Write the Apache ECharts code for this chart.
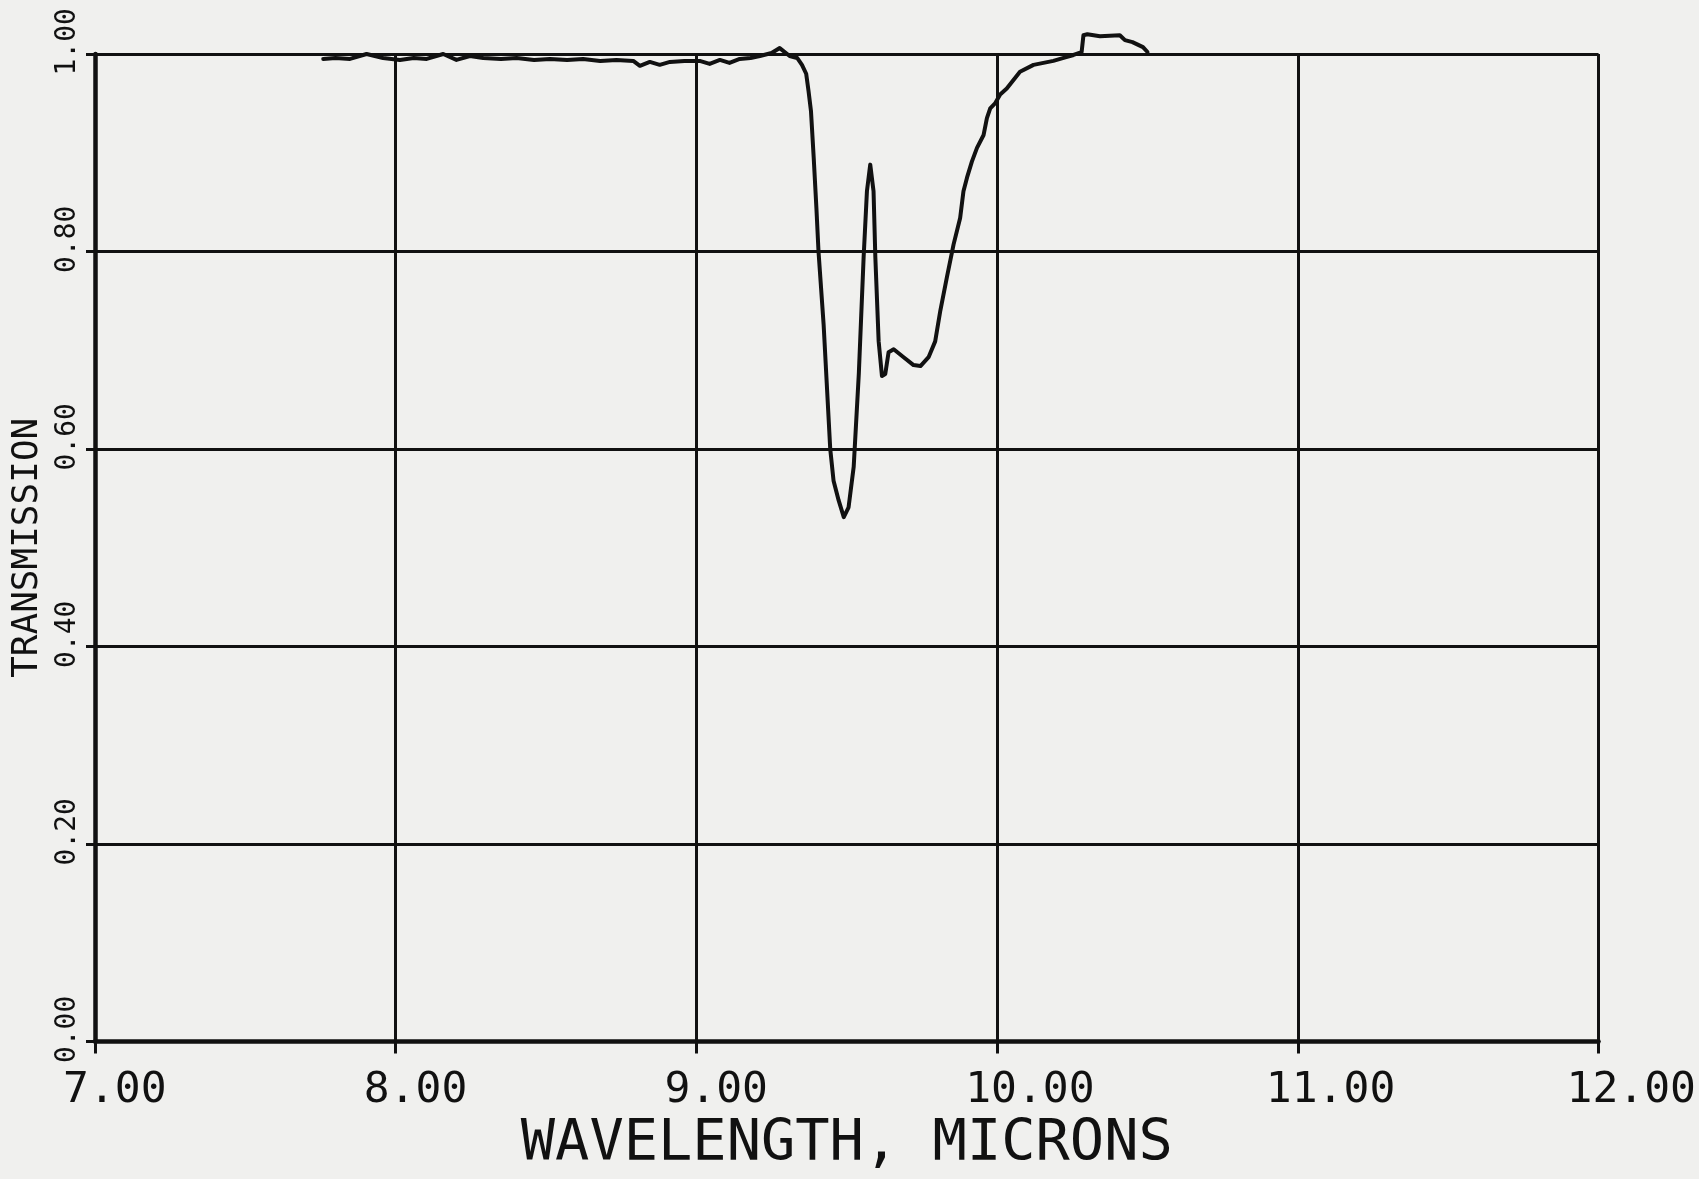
<!DOCTYPE html>
<html>
<head>
<meta charset="utf-8">
<style>
  html, body { margin: 0; padding: 0; background: #f0f0ee; }
  #chart { width: 1699px; height: 1179px; }
</style>
<script src="https://cdn.jsdelivr.net/npm/echarts@6/dist/echarts.min.js"></script>
</head>
<body>
<div id="chart"></div>
<script>
// ---- data ----
const wavelength = [
  7.759, 7.80, 7.848, 7.903, 7.958, 8.014, 8.06, 8.103, 8.158, 8.202,
  8.247, 8.291, 8.35, 8.402, 8.46, 8.513, 8.57, 8.623, 8.68, 8.734,
  8.790, 8.812, 8.845, 8.878, 8.912, 8.96, 9.011, 9.044, 9.078, 9.11,
  9.144, 9.18, 9.211, 9.25, 9.277, 9.31, 9.335, 9.351, 9.365, 9.373,
  9.381, 9.390, 9.399, 9.406, 9.423, 9.445, 9.456, 9.473, 9.490, 9.506,
  9.523, 9.540, 9.556, 9.567, 9.578, 9.589, 9.595, 9.606, 9.617, 9.628,
  9.639, 9.656, 9.689, 9.722, 9.745, 9.772, 9.794, 9.811, 9.833, 9.855,
  9.877, 9.888, 9.900, 9.916, 9.933, 9.955, 9.966, 9.977, 9.993, 10.010,
  10.032, 10.076, 10.121, 10.154, 10.187, 10.221, 10.254, 10.281, 10.287, 10.30,
  10.342, 10.408, 10.425, 10.45, 10.485, 10.50
];
const transmission = [
  0.995, 0.996, 0.995, 1.000, 0.996, 0.994, 0.996, 0.995, 1.000, 0.994,
  0.998, 0.996, 0.995, 0.996, 0.994, 0.995, 0.994, 0.995, 0.993, 0.994,
  0.993, 0.988, 0.992, 0.989, 0.992, 0.993, 0.993, 0.990, 0.994, 0.991,
  0.995, 0.996, 0.998, 1.001, 1.006, 0.998, 0.996, 0.989, 0.980, 0.962,
  0.942, 0.895, 0.844, 0.800, 0.726, 0.600, 0.568, 0.548, 0.531, 0.541,
  0.582, 0.676, 0.794, 0.861, 0.888, 0.861, 0.794, 0.709, 0.674, 0.676,
  0.698, 0.701, 0.693, 0.685, 0.684, 0.693, 0.709, 0.740, 0.774, 0.807,
  0.834, 0.861, 0.875, 0.891, 0.905, 0.918, 0.935, 0.945, 0.950, 0.959,
  0.965, 0.982, 0.989, 0.991, 0.993, 0.996, 0.999, 1.002, 1.019, 1.020,
  1.018, 1.019, 1.014, 1.012, 1.007, 1.002
];
const xTicks = [7, 8, 9, 10, 11, 12];
const yTicks = [0, 0.2, 0.4, 0.6, 0.8, 1.0];
const xTitle = 'WAVELENGTH, MICRONS';
const yTitle = 'TRANSMISSION';

const points = wavelength.map((w, i) => [w, transmission[i]]);
const FONT = 'DejaVu Sans Mono';
const INK = '#111';

const chart = echarts.init(document.getElementById('chart'), null, { renderer: 'canvas' });
chart.setOption({
  backgroundColor: '#f0f0ee',
  animation: false,
  grid: { left: 95, right: 100, top: 54, bottom: 130, containLabel: false },
  xAxis: {
    type: 'value',
    min: xTicks[0], max: xTicks[xTicks.length - 1], interval: 1,
    name: xTitle,
    nameLocation: 'middle',
    nameGap: 103,
    nameTextStyle: { fontFamily: FONT, fontSize: 57, color: INK, verticalAlign: 'middle' },
    axisLine: { show: true, onZero: false, lineStyle: { color: INK, width: 4.5 } },
    axisTick: { show: true, inside: false, length: 12, lineStyle: { color: INK, width: 3 } },
    splitLine: { show: true, lineStyle: { color: INK, width: 3 } },
    axisLabel: {
      margin: 49,
      verticalAlign: 'middle',
      align: 'center',
      formatter: v => '{t|' + v.toFixed(2) + '}',
      rich: { t: { fontFamily: FONT, fontSize: 43, color: INK, width: 64, align: 'left' } }
    }
  },
  yAxis: {
    type: 'value',
    min: yTicks[0], max: yTicks[yTicks.length - 1], interval: 0.2,
    name: yTitle,
    nameLocation: 'middle',
    nameRotate: 90,
    nameGap: 67,
    nameTextStyle: { fontFamily: FONT, fontSize: 36, color: INK, verticalAlign: 'middle', align: 'center' },
    axisLine: { show: true, onZero: false, lineStyle: { color: INK, width: 4.5 } },
    axisTick: { show: true, inside: false, length: 9, lineStyle: { color: INK, width: 3 } },
    splitLine: { show: true, lineStyle: { color: INK, width: 3 } },
    axisLabel: {
      rotate: 90,
      margin: 27,
      align: 'center',
      verticalAlign: 'middle',
      formatter: v => '{t|' + v.toFixed(2) + '}',
      rich: { t: { fontFamily: FONT, fontSize: 28, color: INK, width: 43, align: 'left' } }
    }
  },
  series: [{
    type: 'line',
    data: points,
    showSymbol: false,
    symbol: 'none',
    clip: false,
    smooth: false,
    lineStyle: { color: INK, width: 4, join: 'round', cap: 'round' }
  }]
});
</script>
</body>
</html>
